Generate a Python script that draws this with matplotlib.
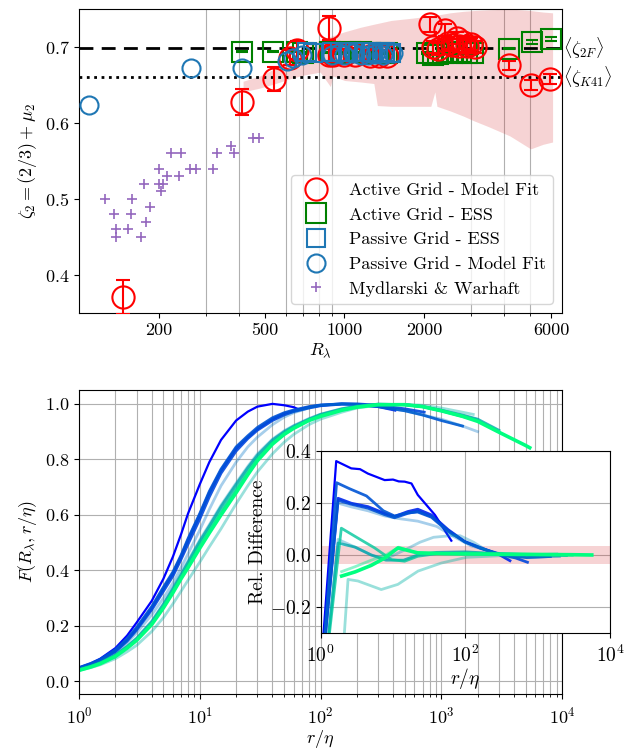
import numpy as np
import matplotlib
matplotlib.use("Agg")
import matplotlib.pyplot as plt
from matplotlib import ticker, transforms
from matplotlib.lines import Line2D

plt.rcParams['font.family'] = 'serif'
plt.rcParams['font.serif'] = ['cmr10']
plt.rcParams['mathtext.fontset'] = 'cm'
plt.rcParams['axes.formatter.use_mathtext'] = True
plt.rcParams['font.size'] = 13
plt.rcParams['axes.unicode_minus'] = True

# ---------------- top panel data ----------------
# Active grid - model fit (R_lambda, zeta_2, error)
act_fit_R = [147, 412, 544, 625, 665, 871, 871, 905, 1000, 1100, 1250, 1350, 1450,
             2100, 2150, 2250, 2400, 2450, 2550, 2650, 2700, 2800, 2900, 3000, 3100,
             4160, 5030, 5940]
act_fit_z = [0.371, 0.628, 0.658, 0.686, 0.696, 0.725, 0.690, 0.690, 0.689, 0.690, 0.688, 0.688, 0.688,
             0.730, 0.700, 0.697, 0.722, 0.705, 0.703, 0.712, 0.702, 0.706, 0.701, 0.704, 0.700,
             0.676, 0.650, 0.658]
act_fit_e = [0.022, 0.017, 0.016, 0.010, 0.012, 0.016, 0.010, 0.008, 0.008, 0.008, 0.008, 0.008, 0.008,
             0.010, 0.008, 0.008, 0.008, 0.008, 0.008, 0.008, 0.008, 0.008, 0.008, 0.008, 0.008,
             0.006, 0.006, 0.006]

# Active grid - ESS
act_ess_R = [412, 540, 660, 700, 880, 950, 1050, 1150, 1250, 1350, 1450,
             2050, 2150, 2250, 2350, 2450, 2550, 2650, 2750, 2900, 3050, 4160, 5090, 6000]
act_ess_z = [0.694, 0.694, 0.694, 0.692, 0.693, 0.692, 0.693, 0.693, 0.692, 0.692, 0.692,
             0.692, 0.690, 0.691, 0.692, 0.693, 0.692, 0.693, 0.693, 0.692, 0.692, 0.698, 0.707, 0.711]
act_ess_e = [0.001] * 21 + [0.001, 0.0025, 0.0025]

# Passive grid - ESS
pas_ess_R = [720, 760, 900, 960, 1030, 1100, 1180, 1260, 1340, 1420, 1500]
pas_ess_z = [0.693, 0.692, 0.694, 0.693, 0.694, 0.693, 0.694, 0.693, 0.692, 0.693, 0.692]

# Passive grid - model fit
pas_fit_R = [109, 265, 412, 610, 640, 690, 900, 950, 1000, 1080, 1150, 1230, 1300, 1400, 1530]
pas_fit_z = [0.624, 0.673, 0.673, 0.682, 0.686, 0.690, 0.690, 0.692, 0.690, 0.692, 0.689, 0.690, 0.691, 0.690, 0.692]

# Mydlarski & Warhaft
mw_R = [125, 135, 138, 138, 153, 157, 159, 171, 175, 179, 185, 200, 200, 203, 208, 215,
        222, 238, 242, 262, 276, 320, 331, 375, 382, 451, 476]
mw_z = [0.50, 0.48, 0.46, 0.45, 0.46, 0.48, 0.50, 0.45, 0.52, 0.47, 0.49, 0.54, 0.52, 0.51, 0.52, 0.53,
        0.56, 0.53, 0.56, 0.54, 0.54, 0.54, 0.56, 0.57, 0.56, 0.58, 0.58]

# shaded band
band_R = [415, 480, 550, 620, 700, 810, 885, 905, 1000, 1150, 1290, 1330, 1500, 1800, 2115,
          2190, 2230, 2500, 2810, 3070, 3500, 4200, 5030, 5600, 6080]
band_lo = [0.641, 0.646, 0.652, 0.658, 0.663, 0.667, 0.648, 0.662, 0.656, 0.654, 0.652, 0.623, 0.622,
           0.622, 0.622, 0.641, 0.622, 0.616, 0.609, 0.603, 0.595, 0.583, 0.566, 0.572, 0.575]
band_hi = [0.655, 0.662, 0.672, 0.685, 0.700, 0.709, 0.714, 0.715, 0.720, 0.726, 0.730, 0.731, 0.735,
           0.738, 0.741, 0.742, 0.742, 0.745, 0.747, 0.748, 0.749, 0.750, 0.748, 0.746, 0.745]

zeta_2F = 0.699
zeta_K41 = 0.66

# ---------------- bottom panel data ----------------
xs = [1, 1.25, 1.5, 2, 2.5, 3, 4, 5, 6, 7, 8, 10, 12, 15, 20, 25, 30, 40, 50, 60,
      80, 100, 150, 200, 300, 500, 700, 1000, 1500, 2000, 3000, 5000]

F_A_x = xs[:20] + [66]
F_A = [0.05, 0.065, 0.082, 0.12, 0.165, 0.212, 0.29, 0.37, 0.45, 0.53,
       0.605, 0.71, 0.79, 0.87, 0.94, 0.972, 0.99, 1.0, 0.995, 0.988, 0.98]
F_C_x = xs[:25] + [414]
F_C = [0.048, 0.062, 0.077, 0.11, 0.15, 0.19, 0.265, 0.335, 0.39, 0.45,
       0.51, 0.6, 0.68, 0.76, 0.84, 0.88, 0.91, 0.945, 0.965, 0.975,
       0.988, 0.995, 1.0, 0.998, 0.99, 0.977]
F_D_x = xs[:26] + [722]
F_D = [0.046, 0.06, 0.075, 0.107, 0.145, 0.185, 0.258, 0.325, 0.38, 0.44,
       0.495, 0.585, 0.665, 0.75, 0.83, 0.875, 0.905, 0.94, 0.96, 0.972,
       0.985, 0.993, 0.999, 1.0, 0.995, 0.982, 0.97]
F_B_x = xs[:29]
F_B = [0.05, 0.065, 0.08, 0.115, 0.155, 0.195, 0.27, 0.34, 0.395, 0.455,
       0.515, 0.605, 0.685, 0.765, 0.845, 0.885, 0.915, 0.95, 0.968, 0.978,
       0.99, 0.996, 1.0, 0.998, 0.99, 0.975, 0.96, 0.94, 0.92]
F_E_x = xs[:30]
F_E = [0.046, 0.06, 0.073, 0.103, 0.14, 0.175, 0.24, 0.3, 0.355, 0.41,
       0.46, 0.545, 0.62, 0.705, 0.79, 0.845, 0.88, 0.925, 0.952, 0.968,
       0.985, 0.995, 1.0, 0.998, 0.99, 0.975, 0.96, 0.945, 0.92, 0.9]
F_G_x = xs[:29] + [1840]
F_G = [0.04, 0.05, 0.06, 0.082, 0.107, 0.13, 0.18, 0.23, 0.28, 0.325,
       0.365, 0.43, 0.485, 0.55, 0.64, 0.705, 0.755, 0.82, 0.862, 0.89,
       0.925, 0.945, 0.97, 0.985, 0.995, 0.998, 0.995, 0.985, 0.97, 0.962]
F_F_x = xs[:30]
F_F = [0.043, 0.055, 0.068, 0.096, 0.127, 0.157, 0.218, 0.28, 0.338, 0.39,
       0.435, 0.51, 0.565, 0.635, 0.715, 0.775, 0.82, 0.873, 0.903, 0.922,
       0.947, 0.963, 0.983, 0.992, 0.999, 0.997, 0.99, 0.977, 0.958, 0.943]
F_I_x = xs[:31]
F_I = [0.043, 0.055, 0.068, 0.095, 0.126, 0.155, 0.215, 0.278, 0.335, 0.385,
       0.43, 0.505, 0.56, 0.63, 0.71, 0.77, 0.815, 0.87, 0.9, 0.92,
       0.945, 0.962, 0.982, 0.992, 0.999, 0.997, 0.99, 0.977, 0.96, 0.945, 0.905]
F_H_x = xs[:31]
F_H = [0.042, 0.054, 0.066, 0.093, 0.123, 0.152, 0.21, 0.27, 0.328, 0.377,
       0.42, 0.495, 0.548, 0.615, 0.695, 0.757, 0.805, 0.862, 0.895, 0.915,
       0.942, 0.96, 0.98, 0.99, 0.998, 0.997, 0.99, 0.975, 0.955, 0.94, 0.9]
F_J_x = xs[:31]
F_J = [0.041, 0.053, 0.065, 0.091, 0.121, 0.15, 0.207, 0.267, 0.324, 0.373,
       0.415, 0.487, 0.54, 0.606, 0.686, 0.75, 0.8, 0.858, 0.892, 0.913,
       0.94, 0.955, 0.978, 0.989, 0.997, 0.997, 0.99, 0.975, 0.955, 0.94, 0.9]
F_K_x = xs + [5400]
F_K = [0.04, 0.052, 0.064, 0.09, 0.12, 0.148, 0.205, 0.265, 0.32, 0.37,
       0.41, 0.48, 0.535, 0.6, 0.68, 0.745, 0.795, 0.855, 0.89, 0.912,
       0.94, 0.955, 0.977, 0.988, 0.997, 0.997, 0.99, 0.975, 0.955, 0.937, 0.898, 0.85, 0.842]

# inset: relative difference
D_A_x = [1, 1.64, 2.65, 3.5, 4.5, 7.67, 10, 12, 14.5, 18, 22, 38, 64]
D_A = [-0.45, 0.361, 0.333, 0.33, 0.313, 0.288, 0.29, 0.283, 0.282, 0.275, 0.231, 0.154, 0.055]
D_C_x = [1, 1.74, 2.65, 4.5, 7.67, 10.5, 16, 22, 34, 58, 98, 160, 300, 414]
D_C = [-0.5, 0.218, 0.199, 0.186, 0.16, 0.148, 0.167, 0.176, 0.154, 0.097, 0.052, 0.029, 0.0, -0.022]
D_D_x = [1, 1.74, 2.65, 4.5, 7.67, 10.5, 16, 22, 34, 58, 98, 160, 300, 500, 722]
D_D = [-0.5, 0.21, 0.195, 0.18, 0.155, 0.143, 0.16, 0.168, 0.148, 0.094, 0.05, 0.027, 0.003, -0.012, -0.028]
D_B_x = [1, 1.66, 2.5, 4.3, 7.35, 10.5, 16, 22, 34, 58, 100, 160, 300, 700, 1500]
D_B = [-0.5, 0.278, 0.255, 0.227, 0.17, 0.15, 0.162, 0.165, 0.145, 0.09, 0.05, 0.026, 0.002, -0.01, -0.006]
D_E_x = [1, 1.7, 2.65, 4.5, 7.67, 12, 22, 40, 70, 120, 300, 800, 2000]
D_E = [-0.5, 0.2, 0.185, 0.17, 0.15, 0.14, 0.13, 0.11, 0.07, 0.035, 0.005, -0.008, -0.005]
D_G_x = [1.9, 2.39, 3.27, 6.88, 11.7, 22.2, 46.6, 104, 303, 1840]
D_G = [-0.5, -0.094, -0.1, -0.133, -0.113, -0.062, -0.031, -0.009, -0.003, 0.004]
D_F_x = [1, 1.74, 3, 5, 8, 15.5, 23.6, 36.3, 61.5, 84.7, 130, 198, 374, 800, 2000]
D_F = [-0.6, 0.06, 0.03, 0.0, -0.015, 0.023, 0.049, 0.068, 0.074, 0.074, 0.049, 0.017, -0.009, -0.008, -0.005]
D_I_x = [1, 1.74, 3, 5, 8, 14, 22, 40, 100, 300, 1000, 2500]
D_I = [-0.6, 0.046, 0.03, 0.0, -0.02, -0.02, 0.0, 0.01, 0.012, 0.005, 0.0, -0.002]
D_H_x = [1, 1.93, 3.27, 5.58, 9.5, 14.5, 22, 40, 100, 300, 1000, 3000]
D_H = [-0.6, 0.103, 0.065, 0.027, -0.018, -0.024, -0.005, 0.005, 0.008, 0.004, 0.002, 0.0]
D_J_x = [1.95, 3, 5, 8, 12, 20, 50, 100, 300, 1000, 3000]
D_J = [-0.064, -0.045, -0.02, 0.0, 0.03, 0.01, 0.006, 0.004, 0.002, 0.001, 0.0]
D_K_x = [1.95, 3, 5, 7.67, 11.7, 22, 50, 100, 300, 1000, 3000, 5600]
D_K = [-0.081, -0.065, -0.04, -0.012, 0.027, 0.008, 0.005, 0.004, 0.003, 0.002, 0.001, 0.0]

# (colour position in winter map, alpha, linewidth)
styles = {
    'A': (0.0, 1.0, 1.6), 'C': (0.15, 0.9, 2.0), 'D': (0.28, 0.9, 2.0), 'B': (0.33, 0.9, 2.0),
    'E': (0.45, 0.35, 2.0), 'G': (0.7, 0.4, 2.0), 'F': (0.55, 0.35, 2.0), 'I': (0.65, 0.8, 2.0),
    'H': (0.78, 0.8, 2.0), 'J': (0.9, 0.45, 2.0), 'K': (1.0, 1.0, 2.6),
}
main_curves = {'A': (F_A_x, F_A), 'C': (F_C_x, F_C), 'D': (F_D_x, F_D), 'B': (F_B_x, F_B),
               'E': (F_E_x, F_E), 'G': (F_G_x, F_G), 'F': (F_F_x, F_F), 'I': (F_I_x, F_I),
               'H': (F_H_x, F_H), 'J': (F_J_x, F_J), 'K': (F_K_x, F_K)}
diff_curves = {'A': (D_A_x, D_A), 'C': (D_C_x, D_C), 'D': (D_D_x, D_D), 'B': (D_B_x, D_B),
               'E': (D_E_x, D_E), 'G': (D_G_x, D_G), 'F': (D_F_x, D_F), 'I': (D_I_x, D_I),
               'H': (D_H_x, D_H), 'J': (D_J_x, D_J), 'K': (D_K_x, D_K)}

cmap = plt.get_cmap('winter')
gridcol = '#b0b0b0'

fig = plt.figure(figsize=(6.31, 7.53), dpi=100)

# ================= top panel =================
ax1 = fig.add_axes([0.1252, 0.5843, 0.7655, 0.4037])
ax1.set_xscale('log')
ax1.fill_between(band_R, band_lo, band_hi, color='C3', alpha=0.2, lw=0, zorder=1)
ax1.axhline(zeta_2F, color='k', ls='--', lw=2, dashes=(5, 3), zorder=2)
ax1.axhline(zeta_K41, color='k', ls=':', lw=2, zorder=2)

ax1.errorbar(act_fit_R, act_fit_z, yerr=act_fit_e, fmt='o', ms=16, mfc='none', mec='red',
             mew=1.5, ecolor='red', elinewidth=1.5, capsize=5, capthick=1.5, zorder=4)
ax1.errorbar(act_ess_R, act_ess_z, yerr=act_ess_e, fmt='s', ms=15, mfc='none', mec='green',
             mew=1.5, ecolor='green', elinewidth=0.6, capsize=4, capthick=1.5, zorder=3)
ax1.plot(pas_ess_R, pas_ess_z, 's', ms=13, mfc='none', mec='tab:blue', mew=1.5, zorder=5)
ax1.plot(pas_fit_R, pas_fit_z, 'o', ms=13, mfc='none', mec='tab:blue', mew=1.5, zorder=5)
ax1.plot(mw_R, mw_z, '+', ms=7, mew=1.2, color='tab:purple', zorder=3)

ax1.set_xlim(100, 6600)
ax1.set_ylim(0.35, 0.75)
ax1.xaxis.set_major_locator(ticker.FixedLocator([200, 500, 1000, 2000, 6000]))
ax1.xaxis.set_major_formatter(ticker.FixedFormatter(['200', '500', '1000', '2000', '6000']))
ax1.xaxis.set_minor_formatter(ticker.NullFormatter())
ax1.set_yticks([0.4, 0.5, 0.6, 0.7])
ax1.grid(which='minor', axis='x', color=gridcol, lw=0.8)
ax1.set_axisbelow(True)
ax1.set_xlabel(r'$R_\lambda$', labelpad=2)
ax1.set_ylabel(r'$\zeta_2 = (2/3) + \mu_2$')

trans = transforms.blended_transform_factory(ax1.transAxes, ax1.transData)
ax1.text(1.003, zeta_2F, r'$\langle\zeta_{2F}\rangle$', transform=trans, va='center', ha='left', fontsize=13)
ax1.text(1.003, zeta_K41, r'$\langle\zeta_{K41}\rangle$', transform=trans, va='center', ha='left', fontsize=13)

handles = [
    Line2D([], [], ls='none', marker='o', ms=16, mfc='none', mec='red', mew=1.5),
    Line2D([], [], ls='none', marker='s', ms=15, mfc='none', mec='green', mew=1.5),
    Line2D([], [], ls='none', marker='s', ms=13, mfc='none', mec='tab:blue', mew=1.5),
    Line2D([], [], ls='none', marker='o', ms=13, mfc='none', mec='tab:blue', mew=1.5),
    Line2D([], [], ls='none', marker='+', ms=7, mew=1.2, color='tab:purple'),
]
labels = ['Active Grid - Model Fit', 'Active Grid - ESS', 'Passive Grid - ESS',
          'Passive Grid - Model Fit', 'Mydlarski & Warhaft']
leg = ax1.legend(handles, labels, loc='lower right', fontsize=13, borderaxespad=0.5,
                 handletextpad=0.8, labelspacing=0.5, borderpad=0.4)
leg.get_frame().set_edgecolor('#cccccc')

# ================= bottom panel =================
ax2 = fig.add_axes([0.1252, 0.0784, 0.7655, 0.4037])
ax2.set_xscale('log')
for k, (x, y) in main_curves.items():
    c, a, lw = styles[k]
    ax2.plot(x, y, color=cmap(c), alpha=a, lw=lw)
ax2.set_xlim(1, 1e4)
ax2.set_ylim(-0.045, 1.05)
ax2.set_yticks([0.0, 0.2, 0.4, 0.6, 0.8, 1.0])
ax2.tick_params(axis='x', pad=5)
ax2.grid(which='both', axis='x', color=gridcol, lw=0.8)
ax2.grid(which='major', axis='y', color=gridcol, lw=0.8)
ax2.set_axisbelow(True)
ax2.set_xlabel(r'$r/\eta$', labelpad=1)
ax2.set_ylabel(r'$F(R_\lambda, r/\eta)$')

# inset
ax3 = fig.add_axes([0.5082, 0.1594, 0.4585, 0.2417])
ax3.set_xscale('log')
ax3.axhspan(-0.033, 0.033, color='C3', alpha=0.2, lw=0)
for k, (x, y) in diff_curves.items():
    c, a, lw = styles[k]
    ax3.plot(x, y, color=cmap(c), alpha=a, lw=lw)
ax3.set_xlim(1, 1e4)
ax3.set_ylim(-0.3, 0.4)
ax3.set_xticks([1, 1e2, 1e4])
ax3.xaxis.set_minor_locator(ticker.NullLocator())
ax3.set_yticks([-0.2, 0.0, 0.2, 0.4])
ax3.tick_params(labelsize=14)
ax3.tick_params(axis='x', pad=5)
ax3.grid(which='major', color=gridcol, lw=0.8)
ax3.set_axisbelow(True)
ax3.set_xlabel(r'$r/\eta$', labelpad=0, fontsize=14)
ax3.set_ylabel('Rel. Difference', labelpad=2, fontsize=14)

fig.savefig('out.png', dpi=100)
